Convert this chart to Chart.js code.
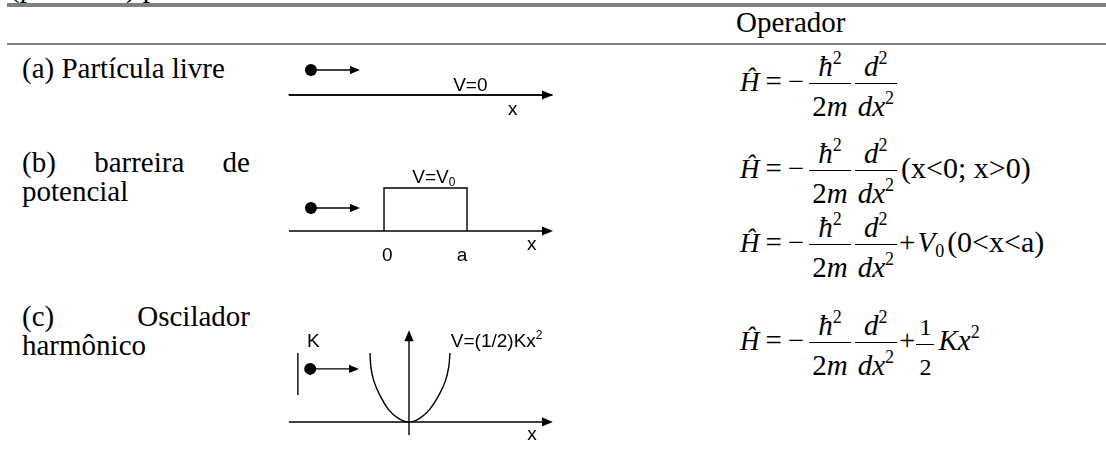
<!DOCTYPE html>
<html>
<head>
<meta charset="utf-8">
<script src="https://cdn.jsdelivr.net/npm/chart.js@4.4.1/dist/chart.umd.min.js"></script>
<style>
body{margin:0;width:1106px;height:468px;overflow:hidden;background:#fff;position:relative;font-family:"Liberation Serif","Times New Roman",serif;color:#000}
.abs{position:absolute;white-space:nowrap;font-size:29px;line-height:29px}
.rule{position:absolute;left:7px;right:0;background:#808080}
.cell{position:absolute;left:22px;width:228px;font-size:29px;line-height:29px;text-align:justify;text-align-last:left}
canvas{position:absolute;left:280px}
.eq{position:absolute;left:740px;font-size:29px;white-space:nowrap;line-height:30px}
.eq .h{font-size:27px}
.eq .op{margin:0 6px}
.frac{display:inline-block;vertical-align:-25px;text-align:center;margin:0 2px}
.frac span{display:block;line-height:30px}
.frac .num{border-bottom:1px solid #000;padding:0 3px 2px}
.frac .den{padding:7px 3px 0}
.s{font-size:18px;position:relative;line-height:0;vertical-align:baseline}
sup.s{top:-12px}
sub.s{top:5px}
.paren{font-size:30px}
</style>
</head>
<body>
<div class="abs" style="left:10px;top:-27px">(potencial) para</div>
<div class="rule" style="top:3px;height:4px"></div>
<div class="abs" style="left:736px;top:8px">Operador</div>
<div class="rule" style="top:43px;height:2px"></div>

<div class="cell" style="top:54px">(a) Partícula livre</div>
<div class="cell" style="top:148px">(b) barreira de potencial</div>
<div class="cell" style="top:302px">(c) Oscilador harmônico</div>

<canvas id="rowA" width="280" height="75" style="top:50px"></canvas>
<canvas id="rowB" width="280" height="120" style="top:150px"></canvas>
<canvas id="rowC" width="280" height="135" style="top:315px"></canvas>

<div class="eq" style="top:51px"><i class="h">Ĥ</i><span class="op">=</span><span style="margin-right:3px">−</span><span class="frac"><span class="num"><i>ħ</i><sup class="s">2</sup></span><span class="den">2<i>m</i></span></span><span class="frac"><span class="num"><i>d</i><sup class="s">2</sup></span><span class="den"><i>dx</i><sup class="s">2</sup></span></span></div>

<div class="eq" style="top:138px"><i class="h">Ĥ</i><span class="op">=</span><span style="margin-right:3px">−</span><span class="frac"><span class="num"><i>ħ</i><sup class="s">2</sup></span><span class="den">2<i>m</i></span></span><span class="frac"><span class="num"><i>d</i><sup class="s">2</sup></span><span class="den"><i>dx</i><sup class="s">2</sup></span></span><span class="paren" style="margin-left:2px">(x&lt;0; x&gt;0)</span></div>

<div class="eq" style="top:212px"><i class="h">Ĥ</i><span class="op">=</span><span style="margin-right:3px">−</span><span class="frac"><span class="num"><i>ħ</i><sup class="s">2</sup></span><span class="den">2<i>m</i></span></span><span class="frac"><span class="num"><i>d</i><sup class="s">2</sup></span><span class="den"><i>dx</i><sup class="s">2</sup></span></span><span>+</span><i style="margin-left:2px">V</i><sub class="s">0</sub><span class="paren" style="margin-left:3px">(0&lt;x&lt;a)</span></div>

<div class="eq" style="top:310px"><i class="h">Ĥ</i><span class="op">=</span><span style="margin-right:3px">−</span><span class="frac"><span class="num"><i>ħ</i><sup class="s">2</sup></span><span class="den">2<i>m</i></span></span><span class="frac"><span class="num"><i>d</i><sup class="s">2</sup></span><span class="den"><i>dx</i><sup class="s">2</sup></span></span><span>+</span><span class="frac" style="font-size:24px;margin:0 1px"><span class="num">1</span><span class="den">2</span></span><i style="margin-left:3px">Kx</i><sup class="s">2</sup></div>

<script>
// potential curves (x in barrier widths / well half-widths)
const freeX = [-1.15, 2.03];
const freeV = [0, 0];
const barrierX = [0, 0, 1, 1];
const barrierV = [0, 1, 1, 0];
const oscX = [-0.95, -0.93, -0.86, -0.72, -0.5, -0.25, 0, 0.25, 0.5, 0.74, 0.89, 0.97, 1.0];
const oscV = [1, 0.8, 0.6, 0.4, 0.18, 0.05, 0, 0.05, 0.18, 0.4, 0.6, 0.8, 1];

const LABEL_FONT = '"Liberation Sans", Arial, sans-serif';

// arrows, balls and labels, placed in data units through the chart scales
const diagramPlugin = {
  id: 'diagram',
  afterDatasetsDraw(chart, args, opts) {
    const { ctx, scales: { x, y } } = chart;
    const px = v => x.getPixelForValue(v);
    const py = v => y.getPixelForValue(v);
    ctx.save();
    ctx.strokeStyle = '#000';
    ctx.fillStyle = '#000';
    ctx.lineWidth = 1.4;

    (opts.arrows || []).forEach(a => {
      const x0 = px(a.from[0]), y0 = py(a.from[1]);
      const x1 = px(a.to[0]), y1 = py(a.to[1]);
      const ang = Math.atan2(y1 - y0, x1 - x0);
      const L = a.head || 11, W = L * 0.42;
      const c = Math.cos(ang), s = Math.sin(ang);
      ctx.beginPath();
      ctx.moveTo(x0, y0);
      ctx.lineTo(x1 - L * 0.7 * c, y1 - L * 0.7 * s);
      ctx.stroke();
      ctx.beginPath();
      ctx.moveTo(x1, y1);
      ctx.lineTo(x1 - L * c + W * s, y1 - L * s - W * c);
      ctx.lineTo(x1 - L * c - W * s, y1 - L * s + W * c);
      ctx.closePath();
      ctx.fill();
    });

    (opts.lines || []).forEach(l => {
      ctx.beginPath();
      ctx.moveTo(px(l[0][0]), py(l[0][1]));
      ctx.lineTo(px(l[1][0]), py(l[1][1]));
      ctx.stroke();
    });

    (opts.balls || []).forEach(b => {
      ctx.beginPath();
      ctx.arc(px(b[0]), py(b[1]), 6, 0, Math.PI * 2);
      ctx.fill();
    });

    (opts.labels || []).forEach(t => {
      ctx.font = '19px ' + LABEL_FONT;
      ctx.textBaseline = 'alphabetic';
      const main = ctx.measureText(t.text).width;
      ctx.font = '12px ' + LABEL_FONT;
      const small = t.sub || t.sup ? ctx.measureText(t.sub || t.sup).width : 0;
      let left = px(t.x);
      if (t.align === 'center') left -= (main + small) / 2;
      const base = py(t.y);
      ctx.font = '19px ' + LABEL_FONT;
      ctx.textAlign = 'left';
      ctx.fillText(t.text, left, base);
      ctx.font = '12px ' + LABEL_FONT;
      if (t.sub) ctx.fillText(t.sub, left + main, base + 3);
      if (t.sup) ctx.fillText(t.sup, left + main, base - 8);
    });
    ctx.restore();
  }
};

function makeDiagram(id, xs, vs, range, deco, tension) {
  new Chart(document.getElementById(id), {
    type: 'scatter',
    data: {
      datasets: [{
        data: xs.map((v, i) => ({ x: v, y: vs[i] })),
        showLine: true,
        borderColor: '#000',
        borderWidth: 1.4,
        pointRadius: 0,
        tension: tension || 0,
        fill: false
      }]
    },
    options: {
      responsive: false,
      animation: false,
      devicePixelRatio: 1,
      layout: { padding: 0 },
      events: [],
      scales: {
        x: { type: 'linear', display: false, min: range.x[0], max: range.x[1] },
        y: { type: 'linear', display: false, min: range.y[0], max: range.y[1] }
      },
      plugins: { legend: { display: false }, tooltip: { enabled: false }, diagram: deco }
    },
    plugins: [diagramPlugin]
  });
}

makeDiagram('rowA', freeX, freeV, { x: [-1.253, 2.12], y: [-0.698, 1.047] }, {
  arrows: [
    { from: [-1.145, 0], to: [2.036, 0] },
    { from: [-0.88, 0.58], to: [-0.29, 0.58], head: 10 }
  ],
  balls: [[-0.88, 0.58]],
  labels: [
    { text: 'V=0', x: 1.04, y: 0.09, align: 'center' },
    { text: 'x', x: 1.55, y: -0.465, align: 'center' }
  ]
});

makeDiagram('rowB', barrierX, barrierV, { x: [-1.253, 2.12], y: [-0.907, 1.884] }, {
  arrows: [
    { from: [-1.145, 0], to: [2.036, 0] },
    { from: [-0.88, 0.535], to: [-0.29, 0.535], head: 10 }
  ],
  balls: [[-0.88, 0.535]],
  labels: [
    { text: 'V=V', sub: '0', x: 0.6, y: 1.12, align: 'center' },
    { text: '0', x: 0.04, y: -0.7, align: 'center' },
    { text: 'a', x: 0.94, y: -0.7, align: 'center' },
    { text: 'x', x: 1.78, y: -0.44, align: 'center' }
  ]
});

makeDiagram('rowC', oscX, oscV, { x: [-3.146, 3.683], y: [-0.406, 1.551] }, {
  arrows: [
    { from: [-2.93, 0], to: [3.51, 0] },
    { from: [0, -0.19], to: [0, 1.33] },
    { from: [-2.41, 0.77], to: [-1.22, 0.77], head: 10 }
  ],
  lines: [[[-2.71, 0.39], [-2.71, 1.0]]],
  balls: [[-2.41, 0.77]],
  labels: [
    { text: 'K', x: -2.49, y: 1.09 },
    { text: 'V=(1/2)Kx', sup: '2', x: 1.02, y: 1.09 },
    { text: 'x', x: 3.0, y: -0.26, align: 'center' }
  ]
}, 0.3);
</script>
</body>
</html>
